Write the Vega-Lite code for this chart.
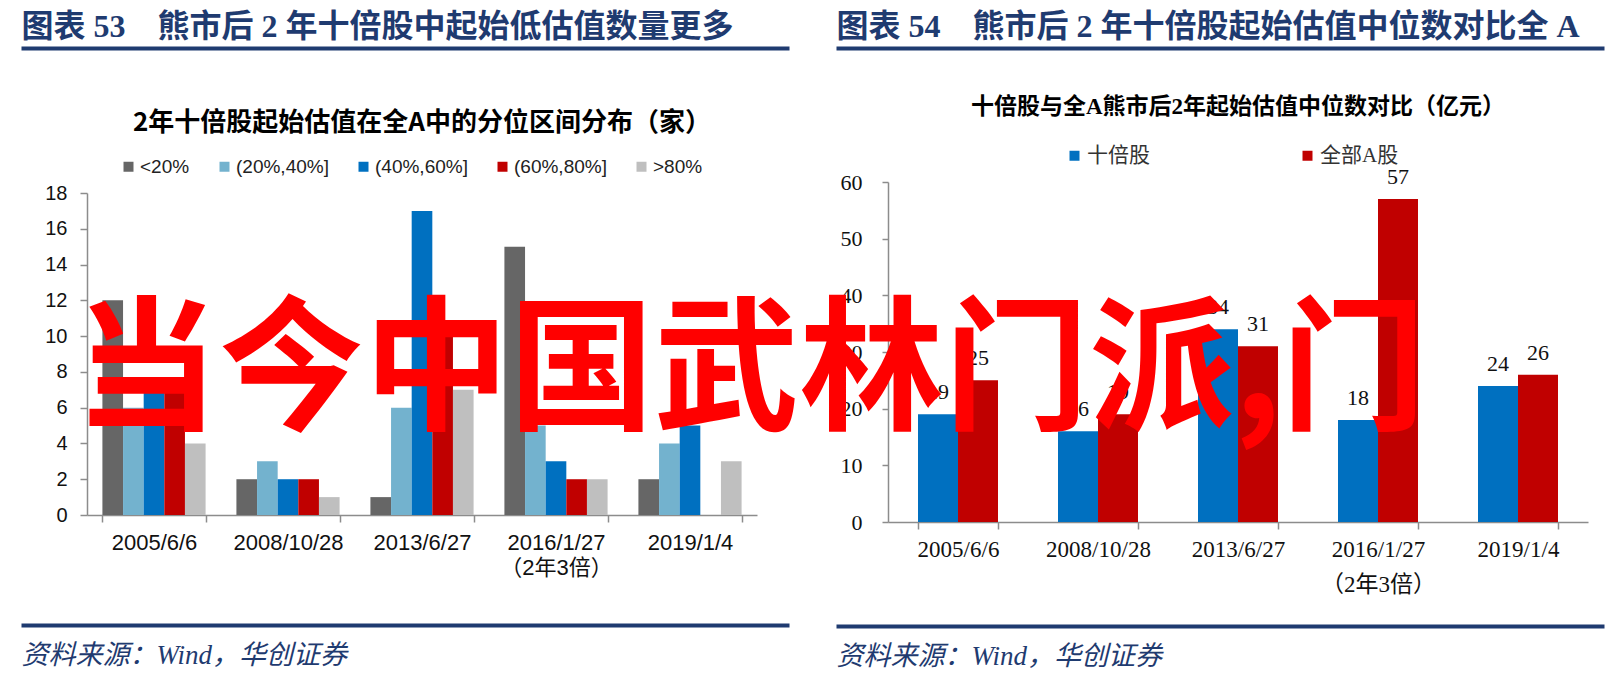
{
  "$schema": "https://vega.github.io/schema/vega-lite/v6.json",
  "background": "#ffffff",
  "padding": {"left": 21, "top": 10, "right": 19, "bottom": 10},
  "config": {"view": {"stroke": null}, "axis": {"grid": false}, "font": "Liberation Sans"},
  "title": {
    "text": "当今中国武林门派,门",
    "orient": "top", "anchor": "start", "frame": "bounds",
    "offset": -554, "dx": 53,
    "font": "Noto Sans CJK SC", "fontSize": 145, "fontWeight": "bold",
    "color": "#FF0000", "baseline": "alphabetic", "zindex": 1
  },
  "spacing": -19,
  "resolve": {
    "scale": {"x": "independent", "y": "independent", "color": "independent", "xOffset": "independent"},
    "legend": {"color": "independent"}
  },
  "hconcat": [
    {
      "spacing": 0,
      "resolve": {"scale": {"x": "independent", "y": "independent", "color": "independent"}, "legend": {"color": "independent"}},
      "vconcat": [
        {
          "width": 702, "height": 62,
          "data": {"values": [{"h": 0.5}]},
          "mark": {"type": "point", "opacity": 0},
          "encoding": {
            "x": {"field": "h", "type": "quantitative", "scale": {"domain": [0, 1], "range": [-66, 702]},
              "axis": {"orient": "top", "ticks": false, "labels": false, "domainColor": "#1F3B70", "domainWidth": 4,
                "title": "图表 53　熊市后 2 年十倍股中起始低估值数量更多", "titleAnchor": "start", "titlePadding": 12,
                "titleFont": "Liberation Serif, Noto Sans CJK SC", "titleFontSize": 32, "titleFontWeight": "bold",
                "titleColor": "#1F3B70", "titleBaseline": "alphabetic"}}
          }
        },
        {
          "width": 670, "height": 322,
          "title": {"text": "2年十倍股起始估值在全A中的分位区间分布（家）", "font": "Noto Sans CJK SC", "fontSize": 26, "fontWeight": "bold", "color": "#000000", "anchor": "middle", "baseline": "alphabetic", "offset": 0},
          "data": {"values": [
            {"date": "2005/6/6", "bin": "<20%", "n": 12},
            {"date": "2005/6/6", "bin": "(20%,40%]", "n": 6},
            {"date": "2005/6/6", "bin": "(40%,60%]", "n": 7},
            {"date": "2005/6/6", "bin": "(60%,80%]", "n": 7},
            {"date": "2005/6/6", "bin": ">80%", "n": 4},
            {"date": "2008/10/28", "bin": "<20%", "n": 2},
            {"date": "2008/10/28", "bin": "(20%,40%]", "n": 3},
            {"date": "2008/10/28", "bin": "(40%,60%]", "n": 2},
            {"date": "2008/10/28", "bin": "(60%,80%]", "n": 2},
            {"date": "2008/10/28", "bin": ">80%", "n": 1},
            {"date": "2013/6/27", "bin": "<20%", "n": 1},
            {"date": "2013/6/27", "bin": "(20%,40%]", "n": 6},
            {"date": "2013/6/27", "bin": "(40%,60%]", "n": 17},
            {"date": "2013/6/27", "bin": "(60%,80%]", "n": 10},
            {"date": "2013/6/27", "bin": ">80%", "n": 7},
            {"date": "2016/1/27", "bin": "<20%", "n": 15},
            {"date": "2016/1/27", "bin": "(20%,40%]", "n": 5},
            {"date": "2016/1/27", "bin": "(40%,60%]", "n": 3},
            {"date": "2016/1/27", "bin": "(60%,80%]", "n": 2},
            {"date": "2016/1/27", "bin": ">80%", "n": 2},
            {"date": "2019/1/4", "bin": "<20%", "n": 2},
            {"date": "2019/1/4", "bin": "(20%,40%]", "n": 4},
            {"date": "2019/1/4", "bin": "(40%,60%]", "n": 5},
            {"date": "2019/1/4", "bin": "(60%,80%]", "n": 0},
            {"date": "2019/1/4", "bin": ">80%", "n": 3}
          ]},
          "mark": {"type": "bar"},
          "encoding": {
            "x": {"field": "date", "type": "nominal", "sort": ["2005/6/6", "2008/10/28", "2013/6/27", "2016/1/27", "2019/1/4"],
              "scale": {"paddingInner": 0.23, "paddingOuter": 0.115},
              "axis": {"title": null, "labelAngle": 0, "tickBand": "extent", "domainColor": "#8C8C8C", "domainWidth": 1.5,
                "tickColor": "#8C8C8C", "tickWidth": 1.5, "tickSize": 7, "labelFont": "Liberation Sans, Noto Sans CJK SC",
                "labelFontSize": 22, "labelColor": "#111111", "labelPadding": 10, "labelLineHeight": 25,
                "labelExpr": "datum.value == '2016/1/27' ? ['2016/1/27', '（2年3倍）'] : datum.value", "minExtent": 80}},
            "xOffset": {"field": "bin", "type": "nominal", "sort": ["<20%", "(20%,40%]", "(40%,60%]", "(60%,80%]", ">80%"],
              "scale": {"paddingInner": 0, "paddingOuter": 0}},
            "y": {"field": "n", "type": "quantitative", "scale": {"domain": [0, 18]},
              "axis": {"title": null, "values": [0, 2, 4, 6, 8, 10, 12, 14, 16, 18], "domainColor": "#8C8C8C", "domainWidth": 1.5,
                "tickColor": "#8C8C8C", "tickWidth": 1.5, "tickSize": 7, "labelFont": "Liberation Sans", "labelFontSize": 20,
                "labelColor": "#111111", "labelPadding": 13, "minExtent": 66}},
            "color": {"field": "bin", "type": "nominal", "sort": ["<20%", "(20%,40%]", "(40%,60%]", "(60%,80%]", ">80%"],
              "scale": {"domain": ["<20%", "(20%,40%]", "(40%,60%]", "(60%,80%]", ">80%"], "range": ["#666666", "#73B2CE", "#0070C0", "#C00000", "#BFBFBF"]},
              "legend": {"orient": "none", "legendX": 32, "legendY": -36, "direction": "horizontal", "title": null,
                "symbolType": "square", "symbolSize": 100, "symbolStrokeWidth": 0, "labelFont": "Liberation Sans",
                "labelFontSize": 19, "labelColor": "#222222", "labelOffset": 2, "columnPadding": 25}}
          }
        },
        {
          "width": 702, "height": 30,
          "data": {"values": [{"h": 0.5}]},
          "mark": {"type": "point", "opacity": 0},
          "encoding": {
            "x": {"field": "h", "type": "quantitative", "scale": {"domain": [0, 1], "range": [-66, 702]},
              "axis": {"orient": "bottom", "ticks": false, "labels": false, "domainColor": "#1F3B70", "domainWidth": 4,
                "title": "资料来源：Wind，华创证券", "titleAnchor": "start", "titlePadding": 17,
                "titleFont": "Liberation Serif, Noto Sans CJK SC", "titleFontSize": 27, "titleFontStyle": "italic",
                "titleFontWeight": "normal", "titleColor": "#1F3B70", "titleBaseline": "top"}}
          }
        }
      ]
    },
    {
      "spacing": 0,
      "resolve": {"scale": {"x": "independent", "y": "independent", "color": "independent"}, "legend": {"color": "independent"}},
      "vconcat": [
        {
          "width": 716, "height": 48,
          "data": {"values": [{"h": 0.5}]},
          "mark": {"type": "point", "opacity": 0},
          "encoding": {
            "x": {"field": "h", "type": "quantitative", "scale": {"domain": [0, 1], "range": [-52, 716]},
              "axis": {"orient": "top", "ticks": false, "labels": false, "domainColor": "#1F3B70", "domainWidth": 4,
                "title": "图表 54　熊市后 2 年十倍股起始估值中位数对比全 A", "titleAnchor": "start", "titlePadding": 12,
                "titleFont": "Liberation Serif, Noto Sans CJK SC", "titleFontSize": 32, "titleFontWeight": "bold",
                "titleColor": "#1F3B70", "titleBaseline": "alphabetic"}}
          }
        },
        {
          "width": 700, "height": 340,
          "title": {"text": "十倍股与全A熊市后2年起始估值中位数对比（亿元）", "font": "Liberation Serif, Noto Sans CJK SC", "fontSize": 23, "fontWeight": "bold", "color": "#000000", "anchor": "middle", "baseline": "alphabetic", "offset": 8},
          "data": {"values": [
            {"date": "2005/6/6", "s": "十倍股", "v": 19},
            {"date": "2005/6/6", "s": "全部A股", "v": 25},
            {"date": "2008/10/28", "s": "十倍股", "v": 16},
            {"date": "2008/10/28", "s": "全部A股", "v": 19},
            {"date": "2013/6/27", "s": "十倍股", "v": 34},
            {"date": "2013/6/27", "s": "全部A股", "v": 31},
            {"date": "2016/1/27", "s": "十倍股", "v": 18},
            {"date": "2016/1/27", "s": "全部A股", "v": 57},
            {"date": "2019/1/4", "s": "十倍股", "v": 24},
            {"date": "2019/1/4", "s": "全部A股", "v": 26}
          ]},
          "encoding": {
            "x": {"field": "date", "type": "nominal", "sort": ["2005/6/6", "2008/10/28", "2013/6/27", "2016/1/27", "2019/1/4"],
              "scale": {"paddingInner": 0.4286, "paddingOuter": 0.2143},
              "axis": {"title": null, "labelAngle": 0, "tickBand": "extent", "domainColor": "#8C8C8C", "domainWidth": 1.5,
                "tickColor": "#8C8C8C", "tickWidth": 1.5, "tickSize": 7, "labelFont": "Liberation Serif, Noto Sans CJK SC",
                "labelFontSize": 23, "labelColor": "#111111", "labelPadding": 9, "labelLineHeight": 35,
                "labelExpr": "datum.value == '2016/1/27' ? ['2016/1/27', '（2年3倍）'] : datum.value", "minExtent": 84}},
            "xOffset": {"field": "s", "type": "nominal", "sort": ["十倍股", "全部A股"], "scale": {"paddingInner": 0, "paddingOuter": 0}},
            "y": {"field": "v", "type": "quantitative", "scale": {"domain": [0, 60]},
              "axis": {"title": null, "values": [0, 10, 20, 30, 40, 50, 60], "domainColor": "#8C8C8C", "domainWidth": 1.5,
                "tickColor": "#8C8C8C", "tickWidth": 1.5, "tickSize": 6, "labelFont": "Liberation Serif", "labelFontSize": 22,
                "labelColor": "#111111", "labelPadding": 20, "minExtent": 52}}
          },
          "layer": [
            {
              "mark": {"type": "bar"},
              "encoding": {
                "color": {"field": "s", "type": "nominal", "sort": ["十倍股", "全部A股"],
                  "scale": {"domain": ["十倍股", "全部A股"], "range": ["#0070C0", "#C00000"]},
                  "legend": {"orient": "none", "legendX": 176, "legendY": -37, "direction": "horizontal", "title": null,
                    "symbolType": "square", "symbolSize": 100, "symbolStrokeWidth": 0,
                    "labelFont": "Liberation Serif, Noto Sans CJK SC", "labelFontSize": 21, "labelColor": "#333333",
                    "labelOffset": 2, "columnPadding": 147}}
              }
            },
            {
              "mark": {"type": "text", "baseline": "alphabetic", "dy": -15, "font": "Liberation Serif", "fontSize": 22, "color": "#111111"},
              "encoding": {"text": {"field": "v", "type": "quantitative", "format": "d"}}
            }
          ]
        },
        {
          "width": 716, "height": 20,
          "data": {"values": [{"h": 0.5}]},
          "mark": {"type": "point", "opacity": 0},
          "encoding": {
            "x": {"field": "h", "type": "quantitative", "scale": {"domain": [0, 1], "range": [-52, 716]},
              "axis": {"orient": "bottom", "ticks": false, "labels": false, "domainColor": "#1F3B70", "domainWidth": 4,
                "title": "资料来源：Wind，华创证券", "titleAnchor": "start", "titlePadding": 17,
                "titleFont": "Liberation Serif, Noto Sans CJK SC", "titleFontSize": 27, "titleFontStyle": "italic",
                "titleFontWeight": "normal", "titleColor": "#1F3B70", "titleBaseline": "top"}}
          }
        }
      ]
    }
  ]
}
